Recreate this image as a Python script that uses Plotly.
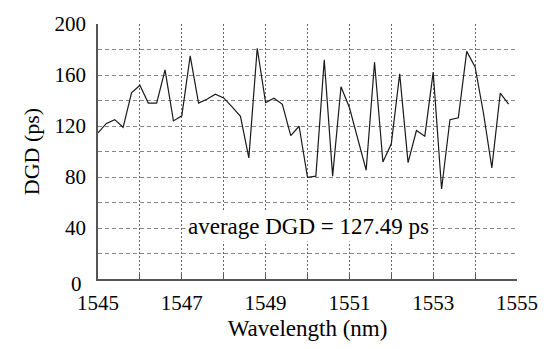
import plotly.graph_objects as go

wavelength = [round(1545 + 0.2 * i, 1) for i in range(50)]
dgd = [114.6, 122, 125, 119, 146, 152, 138, 138, 164, 124,
       128, 175, 138, 141, 145, 142, 135, 127.6, 95, 181,
       138.4, 141.8, 137, 112.5, 119.8, 79.7, 80.7, 172, 80.7, 150.8,
       134.5, 110, 85.4, 170, 91.8, 106, 160.9, 91.3, 116.4, 112,
       162.2, 70.6, 125, 126.5, 178.5, 166.4, 130, 87.2, 145.7, 137.1]

x_ticks = list(range(1545, 1556))
x_labels = [str(v) if (v - 1545) % 2 == 0 else "" for v in x_ticks]
y_ticks = list(range(0, 201, 20))
y_labels = [str(v) if (v % 40 == 0 and v > 0) else "" for v in y_ticks]
note = "average DGD = 127.49 ps"

FONT = "Liberation Serif, DejaVu Serif, serif"

fig = go.Figure()
fig.add_trace(go.Scatter(x=wavelength, y=dgd, mode="lines",
                         line=dict(color="#1a1a1a", width=1.2)))

fig.add_annotation(x=1550.02, y=41, text=note, showarrow=False,
                   bgcolor="white", font=dict(family=FONT, size=23, color="black"),
                   borderpad=2)
fig.add_annotation(xref="paper", yref="paper", x=-0.033, y=-0.02, text="0",
                   showarrow=False, xanchor="right", yanchor="middle",
                   font=dict(family=FONT, size=21, color="black"))

fig.update_layout(
    width=550, height=349,
    margin=dict(l=97.5, r=31.5, t=20, b=70),
    plot_bgcolor="white", paper_bgcolor="white",
    showlegend=False,
    font=dict(family=FONT, size=21, color="black"),
)
fig.update_xaxes(
    range=[1545, 1555], tickmode="array", tickvals=x_ticks, ticktext=x_labels,
    showgrid=True, gridcolor="#666666", griddash="2px,2px", gridwidth=1,
    showline=True, linecolor="#555555", linewidth=1.5,
    ticks="inside", ticklen=5, tickcolor="#555555",
    ticklabelstandoff=4,
    zeroline=False,
    title=dict(text="Wavelength (nm)", font=dict(family=FONT, size=23), standoff=6),
)
fig.update_yaxes(
    range=[0, 200], tickmode="array", tickvals=y_ticks, ticktext=y_labels,
    showgrid=True, gridcolor="#888888", griddash="4px,3px", gridwidth=1,
    showline=True, linecolor="#555555", linewidth=1.5,
    ticks="", zeroline=False, ticklabelstandoff=6,
    title=dict(text="DGD (ps)", font=dict(family=FONT, size=22), standoff=9),
)

fig.write_html("out.html")
